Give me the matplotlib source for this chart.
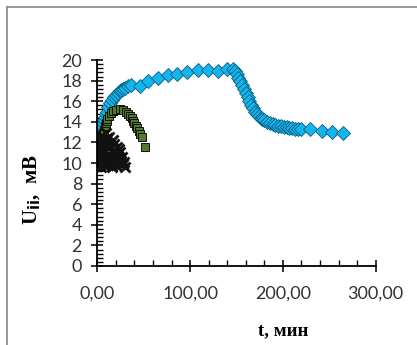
import matplotlib.pyplot as plt
from matplotlib.lines import Line2D
from matplotlib.ticker import MultipleLocator, FuncFormatter

# blue diamonds
t_blue = [0, 1, 2, 3, 4, 5, 6, 7, 8, 9, 10, 12, 14, 16, 18, 20, 22, 24, 26, 28, 30, 33, 36,
          46, 55, 65, 76, 86, 97, 109, 119, 130, 140, 146,
          148, 150, 152, 154, 156, 158, 160, 162, 164, 166, 168, 170, 172, 174, 176, 178,
          180, 183, 186, 189, 192, 195, 198, 201, 204, 207, 210, 213, 216, 219,
          229, 242, 253, 265]
u_blue = [11.2, 11.8, 12.3, 12.8, 13.2, 13.6, 13.9, 14.2, 14.5, 14.8, 15.0, 15.4, 15.8, 16.1, 16.4, 16.6, 16.8, 17.0, 17.1, 17.2, 17.3, 17.5, 17.6,
          17.5, 18.0, 18.3, 18.5, 18.6, 18.8, 19.0, 19.0, 18.9, 19.1, 19.1,
          18.9, 18.6, 18.3, 18.0, 17.6, 17.2, 16.8, 16.4, 16.0, 15.6, 15.3, 15.0, 14.8, 14.6, 14.4, 14.3,
          14.2, 14.0, 13.9, 13.8, 13.7, 13.6, 13.6, 13.5, 13.5, 13.4, 13.4, 13.3, 13.3, 13.3,
          13.3, 13.1, 13.0, 12.9]

# green squares
t_green = [0, 1, 2, 3, 4, 5, 6, 7, 8, 9, 10, 11, 13, 15, 17, 20, 24, 28, 31, 33, 35, 37, 38, 40, 42, 43, 45, 46, 48, 51]
u_green = [10.6, 11.0, 11.4, 11.7, 12.1, 12.6, 12.9, 13.2, 13.6, 13.9, 14.1, 14.3, 14.6, 14.9, 15.05, 15.1, 15.2, 15.1, 15.0, 14.8, 14.6, 14.4, 14.1, 13.9, 13.6, 13.4, 13.1, 12.8, 12.5, 11.6]

# black crosses
t_black = [0, 0.5, 1, 1.5, 2, 2.5, 3, 3.5, 4, 4.5, 5, 5.5, 6, 6.5, 7, 7.5, 8, 8.5, 9, 9.5,
           10, 10.5, 11, 11.5, 12, 12.5, 13, 13.5, 14, 14.5, 15, 15.5, 16, 16.5, 17, 17.5,
           18, 18.5, 19, 19.5, 20, 21, 22, 23, 24, 25, 26, 27, 28, 29, 30]
u_black = [10.2, 11.0, 12.0, 10.4, 9.8, 11.2, 11.5, 9.6, 10.5, 11.9, 12.6, 10.3, 10.0, 12.2, 11.8, 9.9,
           9.7, 11.3, 12.9, 10.6, 10.8, 12.4, 12.3, 9.8, 9.9, 11.6, 12.5, 10.1, 10.3, 12.0, 11.7, 9.7,
           9.6, 11.0, 12.2, 10.5, 10.6, 11.8, 11.0, 9.9, 9.8, 11.6, 10.4, 11.4, 9.9, 11.1, 10.2, 10.6,
           9.9, 10.1, 9.6]

fig = plt.figure(figsize=(4.17, 3.45), dpi=100)
ax = fig.add_axes([0.2333, 0.229, 0.6677, 0.597])

ax.plot(t_blue, u_blue, linestyle='none', marker='D', markersize=7.5,
        markerfacecolor='#14B4EC', markeredgecolor='#0A5E80', markeredgewidth=0.6)
ax.plot(t_green, u_green, linestyle='none', marker='s', markersize=6,
        markerfacecolor='#4E7C2A', markeredgecolor='#111111', markeredgewidth=0.7)
ax.plot(t_black, u_black, linestyle='none', marker='x', markersize=7.5,
        color='#111111', markeredgewidth=2.0)

ax.set_xlim(0, 300)
ax.set_ylim(0, 20)
ax.xaxis.set_major_locator(MultipleLocator(100))
ax.xaxis.set_minor_locator(MultipleLocator(20))
ax.yaxis.set_major_locator(MultipleLocator(2))
ax.yaxis.set_minor_locator(MultipleLocator(0.4))
ax.xaxis.set_major_formatter(FuncFormatter(lambda v, p: f'{v:.2f}'.replace('.', ',')))

for s in ['top', 'right']:
    ax.spines[s].set_visible(False)
for s in ['left', 'bottom']:
    ax.spines[s].set_linewidth(1.3)
ax.tick_params(which='major', direction='inout', length=8, width=1.3, labelsize=13,
               labelfontfamily='Lato', colors='#222222', labelcolor='#333333')
ax.tick_params(which='minor', direction='in', length=4, width=1.0)
ax.tick_params(axis='x', pad=10)
ax.tick_params(axis='y', pad=7)

fig.text(0.68, 0.04, 't, мин', family='Liberation Serif', weight='bold', fontsize=13.5,
         ha='center', va='center')
fig.text(0.078, 0.45, r'U$_{\mathbf{ii}}$,  мВ', family='Liberation Serif', weight='bold',
         fontsize=15, rotation=90, ha='center', va='center')

# outer frame (only top and left visible)
fig.add_artist(Line2D([0.017, 1.0], [0.98, 0.98], color='#888888', lw=1.2, transform=fig.transFigure))
fig.add_artist(Line2D([0.017, 0.017], [0.0, 0.98], color='#888888', lw=1.2, transform=fig.transFigure))

plt.savefig('out.png', dpi=100)
